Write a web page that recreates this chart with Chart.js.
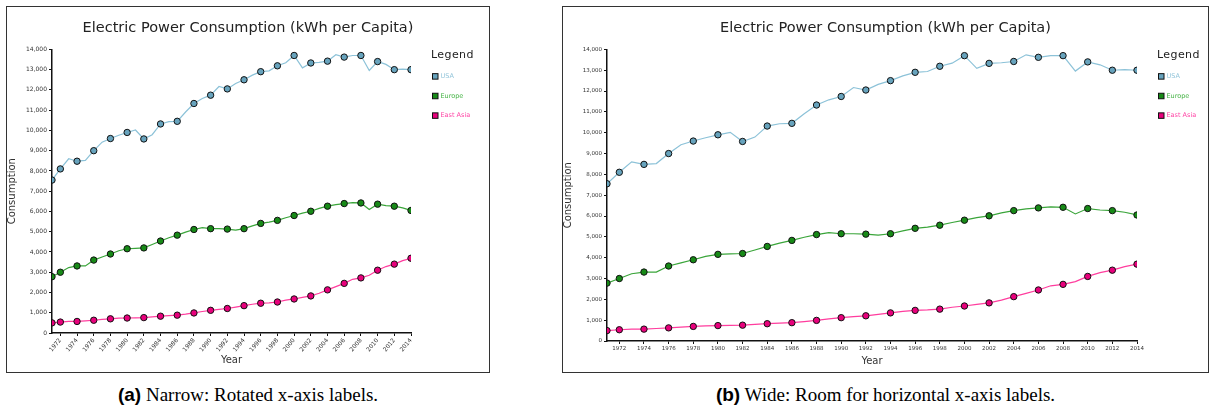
<!DOCTYPE html>
<html>
<head>
<meta charset="utf-8">
<script src="https://cdn.jsdelivr.net/npm/chart.js@4.4.1/dist/chart.umd.min.js"></script>
<style>
  html, body { margin: 0; padding: 0; background: #fff; width: 1210px; height: 419px; overflow: hidden; }
  .frame { position: absolute; top: 6px; height: 365px; border: 1px solid #333; background: #fff; }
  #frameA { left: 6px; width: 482px; }
  #frameB { left: 562px; width: 645px; }
  .frame canvas { display: block; }
  .cap { position: absolute; top: 384px; text-align: center; white-space: nowrap;
         font-family: "Liberation Serif", "Times New Roman", serif; font-size: 19px; color: #000; }
  .cap b { font-family: "Liberation Sans", Arial, sans-serif; font-weight: bold; }
  #capA { left: 6px; width: 484px; }
  #capB { left: 562px; width: 647px; }
</style>
</head>
<body>
<div class="frame" id="frameA"><canvas id="chartA" width="482" height="365"></canvas></div>
<div class="frame" id="frameB"><canvas id="chartB" width="645" height="365"></canvas></div>
<div class="cap" id="capA"><b>(a)</b> Narrow: Rotated x-axis labels.</div>
<div class="cap" id="capB"><b>(b)</b> Wide: Room for horizontal x-axis labels.</div>

<script>
// Electric power consumption, kWh per capita, 1971-2014
const years = [1971, 1972, 1973, 1974, 1975, 1976, 1977, 1978, 1979, 1980,
               1981, 1982, 1983, 1984, 1985, 1986, 1987, 1988, 1989, 1990,
               1991, 1992, 1993, 1994, 1995, 1996, 1997, 1998, 1999, 2000,
               2001, 2002, 2003, 2004, 2005, 2006, 2007, 2008, 2009, 2010,
               2011, 2012, 2013, 2014];

const usa = [7550, 8100, 8600, 8480, 8520, 9000, 9420, 9600, 9760, 9900,
             10020, 9580, 9790, 10320, 10430, 10450, 10910, 11330, 11580, 11740,
             12170, 12050, 12320, 12500, 12730, 12900, 12940, 13190, 13340, 13700,
             13090, 13330, 13360, 13420, 13740, 13620, 13700, 13700, 12960, 13400,
             13260, 13000, 13030, 13000];

const europe = [2780, 3000, 3230, 3310, 3310, 3600, 3750, 3900, 4060, 4160,
                4180, 4200, 4370, 4540, 4700, 4830, 4980, 5110, 5200, 5150,
                5150, 5130, 5080, 5150, 5290, 5410, 5470, 5560, 5690, 5800,
                5920, 6010, 6150, 6260, 6340, 6390, 6440, 6420, 6100, 6360,
                6290, 6260, 6180, 6050];

const eastAsia = [500, 540, 570, 570, 600, 630, 670, 700, 730, 740,
                  750, 760, 800, 830, 860, 880, 930, 990, 1060, 1120,
                  1170, 1210, 1280, 1350, 1420, 1470, 1490, 1530, 1620, 1680,
                  1760, 1830, 1960, 2130, 2290, 2450, 2650, 2720, 2850, 3100,
                  3280, 3400, 3570, 3690];

const seriesNames = ['USA', 'Europe', 'East Asia'];
const seriesValues = [usa, europe, eastAsia];

const xTickYears = [1972, 1974, 1976, 1978, 1980, 1982, 1984, 1986, 1988, 1990,
                    1992, 1994, 1996, 1998, 2000, 2002, 2004, 2006, 2008, 2010,
                    2012, 2014];
const yTickValues = [0, 1000, 2000, 3000, 4000, 5000, 6000, 7000,
                     8000, 9000, 10000, 11000, 12000, 13000, 14000];

const chartTitle = 'Electric Power Consumption (kWh per Capita)';
const xTitle = 'Year';
const yTitle = 'Consumption';
const legendTitle = 'Legend';

// Per-series styling: line stroke, marker fill, legend text colour
const palette = [
  { line: '#8cc2d8', fill: '#67a3bd', text: '#93c5da' },
  { line: '#3aa53a', fill: '#178a17', text: '#44b344' },
  { line: '#ff3d9e', fill: '#e8007c', text: '#ff45a6' }
];

const FONT = "'DejaVu Sans', sans-serif";

// Markers on the first year and on every even year
function hasMarker(year) {
  return year === years[0] || year % 2 === 0;
}

// Boxed legend drawn in the empty band right of the plotting area
const sideLegend = {
  id: 'sideLegend',
  afterDraw(chart, args, o) {
    const ctx = chart.ctx;
    const area = chart.chartArea;
    ctx.save();
    ctx.textBaseline = 'middle';
    ctx.textAlign = 'left';
    ctx.fillStyle = '#222';
    ctx.font = '11px ' + FONT;
    if ('letterSpacing' in ctx) ctx.letterSpacing = '0.4px';
    ctx.fillText(legendTitle, area.right + o.titleDx, area.top + o.titleDy);
    if ('letterSpacing' in ctx) ctx.letterSpacing = '0px';
    ctx.font = '6.5px ' + FONT;
    chart.data.datasets.forEach((ds, i) => {
      const cy = area.top + o.itemDy + i * o.itemStep;
      const bx = area.right + o.boxDx;
      const s = o.box;
      ctx.fillStyle = palette[i].fill;
      ctx.fillRect(bx, cy - s / 2, s, s);
      ctx.strokeStyle = '#111';
      ctx.lineWidth = 1;
      ctx.strokeRect(bx, cy - s / 2, s, s);
      ctx.fillStyle = palette[i].text;
      ctx.fillText(ds.label, area.right + o.textDx, cy);
    });
    ctx.restore();
  }
};

function buildChart(canvasId, opt) {
  const datasets = seriesNames.map((name, i) => ({
    label: name,
    data: years.map((yr, k) => ({ x: yr, y: seriesValues[i][k] })),
    borderColor: palette[i].line,
    borderWidth: 1.2,
    backgroundColor: palette[i].fill,
    pointBackgroundColor: palette[i].fill,
    pointBorderColor: '#111',
    pointBorderWidth: 1,
    pointRadius: ctx => hasMarker(years[ctx.dataIndex]) ? 3.2 : 0,
    pointHoverRadius: 0,
    tension: 0,
    fill: false
  }));

  return new Chart(document.getElementById(canvasId), {
    type: 'line',
    data: { datasets },
    plugins: [sideLegend],
    options: {
      responsive: false,
      animation: false,
      events: [],
      layout: { padding: 0 },
      plugins: {
        legend: { display: false },
        tooltip: { enabled: false },
        title: {
          display: true,
          text: chartTitle,
          color: '#222',
          font: { family: FONT, size: 14.5, weight: 'normal' },
          padding: { top: 12.5, bottom: 12.5 }
        },
        sideLegend: { titleDx: 20, titleDy: 6, boxDx: 21.5, textDx: 29.5, itemDy: 27, itemStep: 19.6, box: 5.5 }
      },
      scales: {
        x: {
          type: 'linear',
          min: years[0],
          max: years[years.length - 1],
          afterBuildTicks: s => { s.ticks = xTickYears.map(v => ({ value: v })); },
          afterFit: s => { s.height = opt.xHeight; },
          border: { display: true, color: '#111', width: 1.5 },
          grid: { drawOnChartArea: false, drawTicks: true, tickLength: 3, color: '#111', lineWidth: 1 },
          ticks: {
            autoSkip: false,
            minRotation: opt.rotation,
            maxRotation: opt.rotation,
            padding: 1,
            color: '#333',
            font: { family: FONT, size: opt.tickSize },
            callback: v => String(v)
          },
          title: {
            display: true,
            text: xTitle,
            color: '#333',
            font: { family: FONT, size: 10 },
            padding: { top: 0, bottom: opt.xTitlePad }
          }
        },
        y: {
          min: 0,
          max: 14000,
          afterBuildTicks: s => { s.ticks = yTickValues.map(v => ({ value: v })); },
          afterFit: s => { s.width = opt.yWidth; },
          border: { display: true, color: '#111', width: 1.5 },
          grid: { drawOnChartArea: false, drawTicks: true, tickLength: 3, color: '#111', lineWidth: 1 },
          ticks: {
            padding: 2,
            color: '#333',
            font: { family: FONT, size: opt.tickSize },
            callback: v => v.toLocaleString('en-US')
          },
          title: {
            display: true,
            text: yTitle,
            color: '#333',
            font: { family: FONT, size: 10, lineHeight: 1 },
            padding: { top: 0, bottom: 0 }
          }
        },
        // Empty right-hand band that holds the legend
        legendBand: {
          position: 'right',
          display: true,
          min: 0,
          max: 1,
          ticks: { display: false },
          grid: { display: false },
          border: { display: false },
          afterFit: s => { s.width = opt.rightBand; }
        }
      }
    }
  });
}

buildChart('chartA', { rotation: 50, tickSize: 6, xHeight: 39, yWidth: 45, rightBand: 78, xTitlePad: 6 });
buildChart('chartB', { rotation: 0, tickSize: 5.5, xHeight: 31, yWidth: 44, rightBand: 71, xTitlePad: 5 });
</script>
</body>
</html>
